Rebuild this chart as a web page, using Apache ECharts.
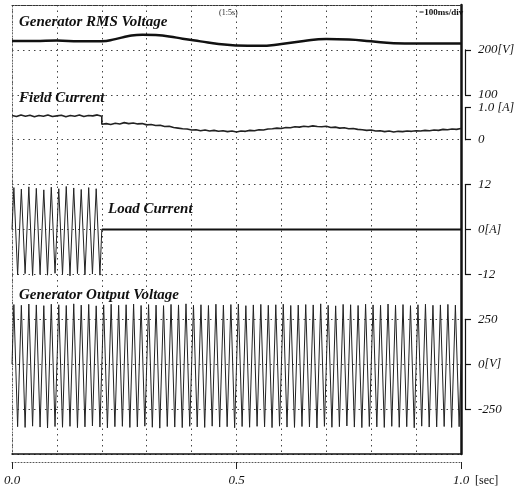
<!DOCTYPE html>
<html>
<head>
<meta charset="utf-8">
<script src="https://cdn.jsdelivr.net/npm/echarts@6/dist/echarts.min.js"></script>
<style>
  html, body { margin: 0; padding: 0; background: #fff; }
  #main { width: 522px; height: 493px; }
</style>
</head>
<body>
<div id="main"></div>
<script>
// 数据
var rmsTimes = [0, 0.05, 0.1, 0.15, 0.2, 0.23, 0.26, 0.29, 0.32, 0.35, 0.38, 0.42, 0.46, 0.5, 0.55, 0.6, 0.65, 0.7, 0.75, 0.8, 0.85, 0.9, 1.0];
var rmsVolts = [220, 220, 221, 219, 219, 224, 231, 234, 233, 230, 225, 219, 213, 210, 209, 213, 220, 224, 223, 219, 215, 214, 214];

// field current, one sample every 10 ms
var fieldStep = 0.01;
var fieldBefore = [0.75, 0.72, 0.77, 0.73, 0.76, 0.71, 0.75, 0.73, 0.77, 0.72, 0.74, 0.76, 0.71, 0.75, 0.73, 0.77, 0.72, 0.75, 0.74, 0.77, 0.73];
var fieldAfter = [0.48, 0.50, 0.47, 0.51, 0.49, 0.53, 0.50, 0.52, 0.49, 0.50, 0.46, 0.47, 0.44, 0.45, 0.41, 0.42, 0.38, 0.36, 0.34, 0.33,
  0.30, 0.31, 0.28, 0.30, 0.27, 0.29, 0.26, 0.28, 0.25, 0.27, 0.24, 0.27, 0.26, 0.29, 0.28, 0.31, 0.30, 0.33, 0.34, 0.36,
  0.35, 0.38, 0.37, 0.40, 0.39, 0.42, 0.40, 0.43, 0.41, 0.40, 0.42, 0.38, 0.39, 0.36, 0.37, 0.34, 0.35, 0.32, 0.31, 0.29,
  0.30, 0.27, 0.28, 0.25, 0.27, 0.24, 0.26, 0.25, 0.27, 0.26, 0.28, 0.27, 0.29, 0.28, 0.30, 0.29, 0.32, 0.31, 0.33, 0.32, 0.35];
var fieldStepTime = 0.2;

// 60 Hz waveforms: peak of every half cycle
var halfCycle = 1 / 120;
var loadPosPeaks = [11.2, 10.8, 11.4, 11.0, 10.6, 11.3, 10.9, 11.5, 11.1, 10.7, 11.2, 10.9];
var loadNegPeaks = [-12.1, -11.8, -12.3, -11.9, -12.2, -11.7, -12.0, -12.4, -11.8, -12.1, -11.9, -12.2];
var loadOffTimes = [0.2, 1.0];
var loadOffValues = [0, 0];

var outPosPeaks = [332, 328, 335, 330, 326, 334, 331, 327, 336, 329, 333, 325, 330, 334, 328, 331, 335, 327, 332, 329,
  326, 333, 330, 336, 328, 331, 327, 334, 329, 332, 335, 326, 330, 333, 328, 331, 334, 327, 329, 332,
  330, 336, 328, 325, 333, 331, 327, 334, 330, 328, 335, 329, 332, 326, 331, 334, 328, 330, 333, 329];
var outNegPeaks = [-348, -352, -345, -350, -355, -347, -351, -346, -353, -349, -344, -350, -354, -348, -346, -352, -349, -345, -351, -356,
  -347, -350, -353, -346, -349, -352, -345, -350, -348, -354, -347, -351, -346, -349, -353, -345, -350, -352, -347, -349,
  -355, -346, -351, -348, -344, -350, -353, -347, -349, -352, -346, -351, -348, -354, -345, -350, -349, -347, -352, -348];

var FONT = 'Liberation Serif';
var L = 12, R = 61, TOP = 5, H = 449;
var DIV = H / 10;

function zigzag(pos, neg) {
  var d = [[0, 0]];
  for (var i = 0; i < pos.length; i++) {
    d.push([(2 * i + 0.5) * halfCycle, pos[i]]);
    d.push([(2 * i + 1.5) * halfCycle, neg[i]]);
  }
  d.push([(2 * pos.length) * halfCycle, 0]);
  return d;
}

var fieldData = [];
fieldBefore.forEach(function (v, i) { fieldData.push([i * fieldStep, v]); });
fieldAfter.forEach(function (v, i) { fieldData.push([fieldStepTime + i * fieldStep, v]); });

var dotted = { color: '#444', width: 1, type: [1.5, 4] };

function bracketAxis(grid, min, max, interval, fmt) {
  return {
    type: 'value', gridIndex: grid, position: 'right', offset: 4,
    min: min, max: max, interval: interval,
    axisLine: { show: true, onZero: false, lineStyle: { color: '#111', width: 1.2 } },
    axisTick: { show: true, length: 6, lineStyle: { color: '#111', width: 1.2 } },
    splitLine: { show: false },
    axisLabel: {
      margin: 13, formatter: fmt, color: '#111',
      fontFamily: FONT, fontStyle: 'italic', fontSize: 13,
      rich: { u: { fontFamily: FONT, fontSize: 12, color: '#111' } }
    }
  };
}

function hiddenX(grid) {
  return { type: 'value', gridIndex: grid, min: 0, max: 1, show: false };
}

function caption(text, left, top) {
  return {
    text: text, left: left, top: top,
    textStyle: { fontFamily: FONT, fontStyle: 'italic', fontWeight: 'bold', fontSize: 15, color: '#111' }
  };
}

var chart = echarts.init(document.getElementById('main'));
chart.setOption({
  backgroundColor: '#fff',
  animation: false,
  title: [
    caption('Generator RMS Voltage', 14, 10),
    caption('Field Current', 14, 86),
    caption('Load Current', 103, 197),
    caption('Generator Output Voltage', 14, 283),
    { text: '(1:5s)', left: 214, top: 4, textStyle: { fontFamily: FONT, fontSize: 8, fontWeight: 'normal', color: '#222' } },
    { text: '=100ms/div', left: 414, top: 3, textStyle: { fontFamily: FONT, fontSize: 9, fontWeight: 'bold', color: '#111' } }
  ],
  grid: [
    { left: L, right: R, top: TOP, height: H },
    { left: L, right: R, top: TOP + DIV, height: DIV },
    { left: L, right: R, top: 107.5, height: TOP + 3 * DIV - 107.5 },
    { left: L, right: R, top: TOP + 4 * DIV, height: 2 * DIV },
    { left: L, right: R, top: TOP + 7 * DIV, height: 2 * DIV }
  ],
  xAxis: [
    {
      type: 'value', gridIndex: 0, min: 0, max: 1, interval: 0.1, position: 'bottom',
      axisLine: { onZero: false, lineStyle: { color: '#111', width: 1.5 } },
      axisTick: { show: false }, axisLabel: { show: false },
      splitLine: { show: true, lineStyle: dotted }
    },
    {
      type: 'value', gridIndex: 0, min: 0, max: 1, position: 'top',
      axisLine: { onZero: false, lineStyle: { color: '#333', width: 1, type: [2, 1] } },
      axisTick: { show: false }, axisLabel: { show: false }, splitLine: { show: false }
    },
    {
      type: 'value', gridIndex: 0, min: 0, max: 1, interval: 0.5, position: 'bottom', offset: 8,
      axisLine: { onZero: false, lineStyle: { color: '#555', width: 1, type: [1, 2] } },
      axisTick: { show: true, length: 7, lineStyle: { color: '#222' } },
      splitLine: { show: false },
      axisLabel: {
        margin: 12, color: '#111', fontFamily: FONT, fontStyle: 'italic', fontSize: 13,
        formatter: function (v) { return v.toFixed(1); }
      },
      name: '[sec]', nameLocation: 'end', nameGap: 12,
      nameTextStyle: { fontFamily: FONT, fontSize: 12, color: '#111', verticalAlign: 'top', padding: [13, 0, 0, 0] }
    },
    hiddenX(1), hiddenX(2), hiddenX(3), hiddenX(4)
  ],
  yAxis: [
    {
      type: 'value', gridIndex: 0, min: 0, max: 10, interval: 1,
      axisLine: { show: true, onZero: false, lineStyle: { color: '#666', width: 1, type: [1, 2] } },
      axisTick: { show: false }, axisLabel: { show: false },
      splitLine: { show: true, lineStyle: dotted }
    },
    {
      type: 'value', gridIndex: 0, min: 0, max: 10, position: 'right',
      axisLine: { show: true, onZero: false, lineStyle: { color: '#111', width: 2.5 } },
      axisTick: { show: false }, axisLabel: { show: false }, splitLine: { show: false }
    },
    bracketAxis(1, 100, 200, 100, function (v) { return v === 200 ? '200{u|[V]}' : '100'; }),
    bracketAxis(2, 0, 1, 1, function (v) { return v === 1 ? '1.0 {u|[A]}' : '0'; }),
    bracketAxis(3, -12, 12, 12, function (v) { return v === 0 ? '0{u|[A]}' : String(v); }),
    bracketAxis(4, -250, 250, 250, function (v) { return v === 0 ? '0{u|[V]}' : String(v); })
  ],
  series: [
    {
      name: 'Generator RMS Voltage', type: 'line', xAxisIndex: 3, yAxisIndex: 2,
      data: rmsTimes.map(function (t, i) { return [t, rmsVolts[i]]; }),
      smooth: true, showSymbol: false, clip: false,
      lineStyle: { color: '#111', width: 2.5 }
    },
    {
      name: 'Field Current', type: 'line', xAxisIndex: 4, yAxisIndex: 3,
      data: fieldData, showSymbol: false, clip: false,
      lineStyle: { color: '#222', width: 1.6 }
    },
    {
      name: 'Load Current', type: 'line', xAxisIndex: 5, yAxisIndex: 4,
      data: zigzag(loadPosPeaks, loadNegPeaks), showSymbol: false, clip: false,
      lineStyle: { color: '#222', width: 1 }
    },
    {
      name: 'Load Current off', type: 'line', xAxisIndex: 5, yAxisIndex: 4,
      data: loadOffTimes.map(function (t, i) { return [t, loadOffValues[i]]; }),
      showSymbol: false, clip: false,
      lineStyle: { color: '#111', width: 2 }
    },
    {
      name: 'Generator Output Voltage', type: 'line', xAxisIndex: 6, yAxisIndex: 5,
      data: zigzag(outPosPeaks, outNegPeaks), showSymbol: false, clip: false,
      lineStyle: { color: '#222', width: 1 }
    }
  ]
});
</script>
</body>
</html>
